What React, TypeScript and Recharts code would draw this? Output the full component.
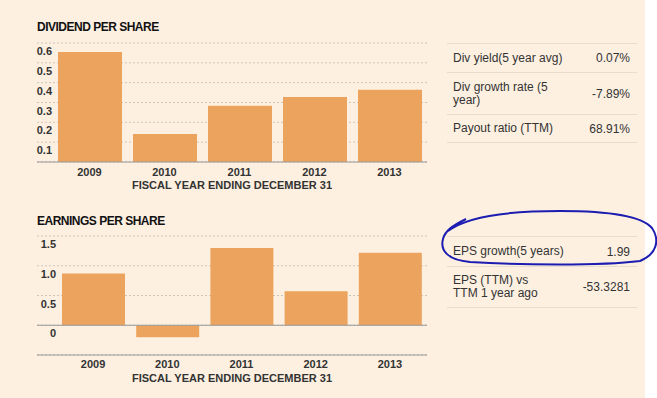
import React from 'react';
import { BarChart, Bar, XAxis, YAxis, CartesianGrid, ReferenceLine } from 'recharts';

const years = ['2009', '2010', '2011', '2012', '2013'];
const dividendValues = [0.555, 0.141, 0.283, 0.328, 0.364];
const epsValues = [0.87, -0.2, 1.3, 0.57, 1.22];
const dividendTicks = [0, 0.1, 0.2, 0.3, 0.4, 0.5, 0.6];
const epsTicks = [-0.5, 0, 0.5, 1, 1.5];

const dividendStats = [
  { label: ['Div yield(5 year avg)'], value: '0.07%' },
  { label: ['Div growth rate (5', 'year)'], value: '-7.89%' },
  { label: ['Payout ratio (TTM)'], value: '68.91%' },
];
const epsStats = [
  { label: ['EPS growth(5 years)'], value: '1.99' },
  { label: ['EPS (TTM) vs', 'TTM 1 year ago'], value: '-53.3281' },
];

const dividendData = years.map((year, i) => ({ year, value: dividendValues[i] }));
const epsData = years.map((year, i) => ({ year, value: epsValues[i] }));

const FONT = '"Liberation Sans", Arial, sans-serif';
const BAR = '#eba35d';
const BG = '#fdf0e1';
const TEXT = '#333';

// y labels sit just under their gridline, right aligned
function yTick(right: number, show: (v: number) => boolean) {
  return (props: any) => {
    const v = props.payload.value;
    if (!show(v)) return <g />;
    return (
      <text x={right} y={props.y + 12} textAnchor="end" fontFamily={FONT} fontSize={11} fontWeight="bold" fill={TEXT}>
        {v === 0 ? '0' : v.toFixed(1)}
      </text>
    );
  };
}

function xTick(dy: number) {
  return (props: any) => (
    <text x={props.x} y={props.y + dy} textAnchor="middle" fontFamily={FONT} fontSize={11} fontWeight="bold" fill={TEXT}>
      {props.payload.value}
    </text>
  );
}

function Title({ text, top }: { text: string; top: number }) {
  return (
    <div style={{ position: 'absolute', left: 37, top, fontFamily: FONT, fontSize: 12, fontWeight: 'bold', letterSpacing: -0.5, lineHeight: '12px', color: '#111' }}>
      {text}
    </div>
  );
}

function AxisLabel({ top }: { top: number }) {
  return (
    <div style={{ position: 'absolute', left: 32, width: 400, top, textAlign: 'center', fontFamily: FONT, fontSize: 11, fontWeight: 'bold', lineHeight: '11px', color: TEXT }}>
      FISCAL YEAR ENDING DECEMBER 31
    </div>
  );
}

function StatTable({ rows, top, heights }: { rows: { label: string[]; value: string }[]; top: number; heights: number[] }) {
  return (
    <div style={{ position: 'absolute', left: 447, top, width: 190, borderTop: '1px solid #e6dccf', fontFamily: FONT, fontSize: 12, color: TEXT }}>
      {rows.map((r, i) => (
        <div
          key={i}
          style={{ height: heights[i] - 1, borderBottom: '1px solid #e6dccf', display: 'flex', alignItems: 'center', justifyContent: 'space-between', padding: '0 7px 0 6px', boxSizing: 'content-box' as const, width: 177 }}
        >
          <div style={{ lineHeight: '13px' }}>
            {r.label.map((l) => (
              <div key={l}>{l}</div>
            ))}
          </div>
          <div>{r.value}</div>
        </div>
      ))}
    </div>
  );
}

export default function App() {
  return (
    <div style={{ position: 'absolute', left: 0, top: 0, width: 657, height: 398, background: '#fff', overflow: 'hidden' }}>
      <div style={{ position: 'absolute', left: 0, top: 0, width: 645, height: 398, background: BG }} />

      <Title text="DIVIDEND PER SHARE" top={21} />
      <div style={{ position: 'absolute', left: 0, top: 0 }}>
        <BarChart width={440} height={200} data={dividendData} margin={{ top: 43, right: 13, left: 36, bottom: 8 }}>
          <CartesianGrid vertical={false} strokeDasharray="2 2" stroke="#cdc4b8" />
          <XAxis
            dataKey="year"
            height={30}
            padding={{ left: 15, right: 0 }}
            tickLine={false}
            tickSize={0}
            tickMargin={0}
            axisLine={{ stroke: '#999' }}
            tick={xTick(14)}
          />
          <YAxis
            width={1}
            domain={[0, 0.6]}
            ticks={dividendTicks}
            interval={0}
            axisLine={false}
            tickLine={false}
            tick={yTick(52, (v) => v > 0)}
          />
          <Bar dataKey="value" fill={BAR} barSize={64} isAnimationActive={false} />
        </BarChart>
      </div>
      <AxisLabel top={180} />
      <StatTable rows={dividendStats} top={43} heights={[29, 42, 28]} />

      <Title text="EARNINGS PER SHARE" top={215} />
      <div style={{ position: 'absolute', left: 0, top: 200 }}>
        <BarChart width={440} height={200} data={epsData} margin={{ top: 36, right: 13, left: 36, bottom: 15 }}>
          <CartesianGrid vertical={false} strokeDasharray="2 2" stroke="#cdc4b8" />
          <XAxis
            dataKey="year"
            height={30}
            padding={{ left: 19, right: 0 }}
            tickLine={false}
            tickSize={0}
            tickMargin={0}
            axisLine={{ stroke: '#999' }}
            tick={xTick(13)}
          />
          <YAxis
            width={1}
            domain={[-0.5, 1.5]}
            ticks={epsTicks}
            interval={0}
            axisLine={false}
            tickLine={false}
            tick={yTick(56, (v) => v >= 0)}
          />
          <ReferenceLine y={0} stroke="#999" />
          <Bar dataKey="value" fill={BAR} barSize={63} isAnimationActive={false} />
        </BarChart>
      </div>
      <AxisLabel top={373} />
      <StatTable rows={epsStats} top={236} heights={[30, 41]} />

      <svg width={657} height={398} style={{ position: 'absolute', left: 0, top: 0, pointerEvents: 'none' }}>
        <path
          d="M 448 231 C 470 214, 520 211, 560 211 C 600 211, 640 214, 652 228 C 660 240, 657 254, 640 261 C 600 266, 520 265, 470 262 C 447 260, 440 250, 443 239 C 445 231, 452 226, 466 219"
          fill="none"
          stroke="#1c1cb0"
          strokeWidth={2}
        />
      </svg>
    </div>
  );
}
